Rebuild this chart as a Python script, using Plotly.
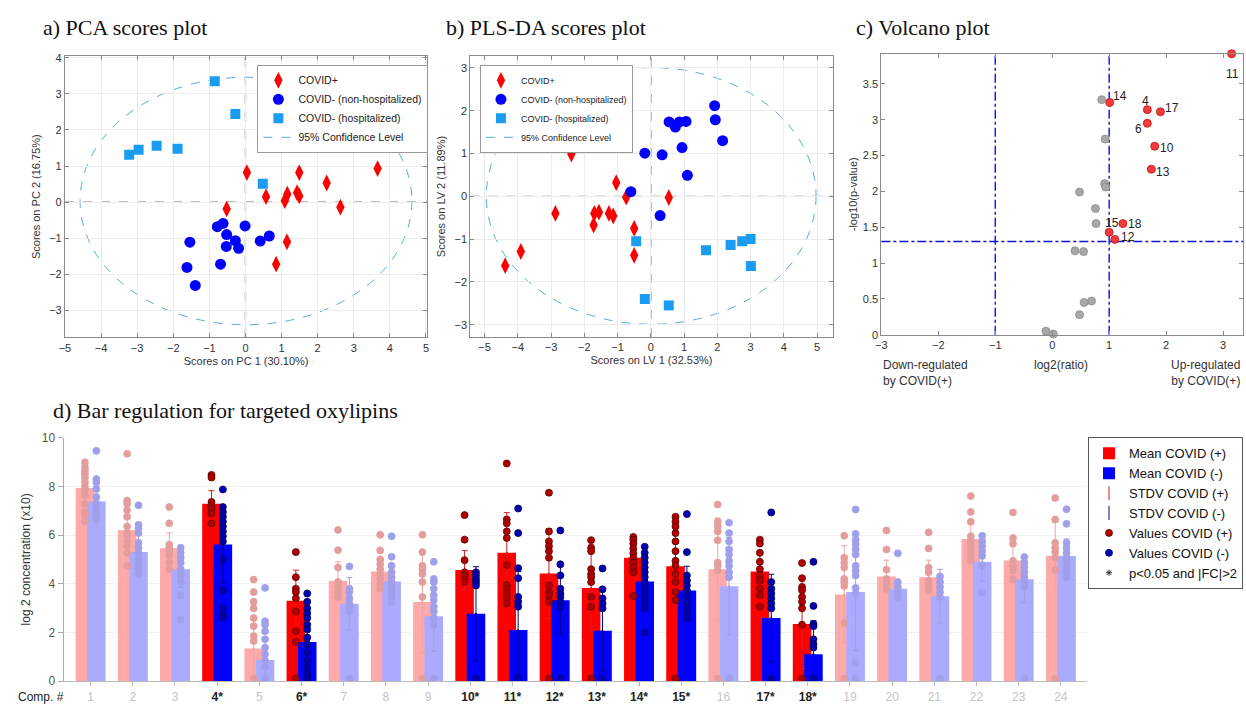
import numpy as np
import plotly.graph_objects as go

W, H = 1246, 711

# ---------------- a) PCA scores ----------------
pca_pos_x = [4.47, 3.66, 2.25, 2.63, 1.49, 1.43, 1.49, 1.16, 1.09, 0.57, 0.04, -0.52, 1.15, 0.85]
pca_pos_y = [1.80, 0.93, 0.53, -0.14, 0.82, 0.26, 0.17, 0.22, 0.04, 0.15, 0.82, -0.19, -1.10, -1.72]
pca_nonhosp_x = [-0.01, -0.62, -0.78, -0.52, -0.28, -0.53, -0.19, -0.69, -1.54, -1.62, -1.39, 0.41, 0.66]
pca_nonhosp_y = [-0.66, -0.59, -0.68, -0.90, -1.07, -1.23, -1.28, -1.72, -1.11, -1.81, -2.31, -1.08, -0.94]
pca_hosp_x = [-0.85, -0.28, -1.88, -2.46, -2.96, -3.22, 0.48]
pca_hosp_y = [3.35, 2.44, 1.48, 1.56, 1.45, 1.31, 0.51]
pca_ellipse = dict(x0=-4.58, x1=4.61, y0=-3.40, y1=3.46)

# ---------------- b) PLS-DA scores ----------------
pls_pos_x = [-2.39, -1.04, -0.74, 0.54, -2.87, -1.70, -1.56, -1.26, -1.13, -1.72, -0.50, -0.50, -3.91, -4.38]
pls_pos_y = [0.99, 0.32, -0.02, -0.03, -0.40, -0.40, -0.37, -0.40, -0.46, -0.67, -0.75, -1.38, -1.29, -1.62]
pls_nonhosp_x = [1.92, 1.94, 2.16, 0.55, 0.74, 0.86, 1.06, -0.18, 0.34, 0.94, 1.10, -0.60, 0.28]
pls_nonhosp_y = [2.12, 1.79, 1.30, 1.74, 1.62, 1.74, 1.75, 1.01, 0.97, 1.14, 0.49, 0.11, -0.45]
pls_hosp_x = [-0.44, 1.66, 2.40, 2.75, 3.00, 3.01, -0.18, 0.54]
pls_hosp_y = [-1.05, -1.26, -1.14, -1.05, -1.00, -1.63, -2.40, -2.55]
pls_ellipse = dict(x0=-4.95, x1=4.97, y0=-2.99, y1=3.01)

# ---------------- c) Volcano ----------------
volc_sig_x = [3.15, 1.01, 1.67, 1.90, 1.67, 1.80, 1.74, 1.24, 1.00, 1.10]
volc_sig_y = [3.92, 3.24, 3.14, 3.11, 2.95, 2.63, 2.31, 1.55, 1.43, 1.33]
volc_sig_labels = ["11", "14", "4", "17", "6", "10", "13", "18", "15", "12"]
volc_label_shift = [(1, -20), (10, 7), (-2, 9), (12, 4), (-9, -6), (12, -2), (12, -3), (12, 0), (3, 9), (13, 2)]
volc_ns_x = [0.87, 0.93, 0.92, 0.94, 0.48, 0.76, 0.77, 0.40, 0.55, 0.69, 0.56, 0.48, -0.11, 0.02]
volc_ns_y = [3.28, 2.73, 2.11, 2.06, 1.99, 1.76, 1.55, 1.17, 1.16, 0.47, 0.45, 0.28, 0.05, 0.01]
volc_fc_lines = [-1, 1]
volc_p_line = 1.3

# ---------------- d) Bars ----------------
comp_labels = ["1", "2", "3", "4*", "5", "6*", "7", "8", "9", "10*", "11*", "12*",
               "13*", "14*", "15*", "16", "17*", "18*", "19", "20", "21", "22", "23", "24"]
mean_pos = [7.93, 6.21, 5.46, 7.29, 1.34, 3.30, 4.12, 4.50, 3.25, 4.56, 5.27, 4.42,
            3.83, 5.07, 4.72, 4.60, 4.50, 2.35, 3.56, 4.30, 4.27, 5.84, 4.95, 5.15]
mean_neg = [7.38, 5.30, 4.60, 5.61, 0.87, 1.61, 3.18, 4.09, 2.67, 2.77, 2.10, 3.32,
            2.07, 4.09, 3.72, 3.90, 2.59, 1.11, 3.66, 3.80, 3.49, 4.90, 4.19, 5.14]
sd_pos = [0.60, 0.55, 0.63, 0.53, 1.20, 1.26, 0.78, 0.40, 2.10, 0.80, 1.65, 1.85,
          1.75, 0.60, 1.60, 2.10, 0.80, 1.84, 2.00, 0.67, 0.70, 0.60, 0.62, 1.37]
sd_neg = [0.60, 0.70, 0.75, 1.58, 0.90, 1.10, 1.07, 0.58, 1.45, 1.93, 2.40, 1.40,
          1.65, 0.85, 1.00, 2.00, 1.80, 1.37, 2.40, 0.25, 1.10, 0.80, 0.95, 0.70]
points_pos = [
    [8.99, 8.77, 8.64, 8.50, 8.36, 8.16, 7.96, 7.83, 7.63, 7.29, 6.95, 6.82, 6.58],
    [9.34, 7.42, 7.29, 7.02, 6.75, 6.35, 6.08, 5.95, 5.74, 5.54, 5.27, 4.74],
    [7.15, 6.48, 5.61, 5.48, 5.34, 5.14, 4.87, 4.60],
    [8.47, 8.36, 7.36, 7.22, 7.09, 6.89, 6.48],
    [4.17, 3.66, 3.26, 2.99, 2.59, 2.26, 1.85, 1.65, 0.10],
    [5.30, 4.27, 3.80, 3.66, 3.40, 2.86, 2.05, 1.62, 0.10],
    [6.21, 5.38, 4.67, 4.07, 3.87, 3.66, 3.46],
    [6.01, 5.37, 5.00, 4.80, 4.60, 4.40, 4.20, 4.00, 3.80],
    [6.01, 5.30, 4.74, 4.60, 4.40, 4.07, 3.46, 0.10],
    [6.82, 5.81, 4.97, 4.47, 4.34, 4.20, 4.07],
    [8.94, 6.64, 6.48, 6.15, 5.88, 4.77, 3.93, 3.80, 3.60, 3.40, 3.19],
    [7.74, 6.15, 5.74, 5.54, 5.34, 5.07, 3.93, 3.66, 3.53, 3.26, 0.10],
    [5.79, 5.48, 5.34, 4.60, 4.40, 4.27, 4.07, 3.46, 3.06, 0.10],
    [5.92, 5.81, 5.65, 5.44, 5.25, 5.06, 4.87, 4.67, 4.47, 3.50],
    [6.75, 6.55, 6.35, 6.08, 5.74, 5.34, 4.94, 4.74, 4.40, 4.07, 3.66, 3.33, 0.10],
    [7.25, 6.55, 6.35, 6.15, 5.79, 4.87, 4.74, 4.54, 0.10],
    [5.81, 5.65, 5.27, 4.90, 4.60, 4.34, 4.13, 3.80, 3.53, 3.06],
    [4.85, 4.23, 3.87, 3.73, 3.46, 3.26, 2.99, 2.32, 0.10],
    [5.97, 5.07, 4.87, 4.67, 4.20, 4.07, 3.91, 2.39, 0.10],
    [6.19, 5.41, 4.58, 4.20, 4.00, 3.80],
    [6.11, 5.45, 4.67, 4.47, 4.13, 3.93, 3.73],
    [7.60, 6.95, 6.55, 5.95, 5.74, 5.54, 5.34, 5.14, 4.94],
    [6.93, 5.88, 5.64, 4.94, 4.74, 4.54, 4.17],
    [7.52, 6.64, 5.68, 5.48, 5.30, 5.07, 4.58, 0.10],
]
points_neg = [
    [9.46, 8.30, 8.16, 7.89, 7.56, 7.29, 7.02, 6.89, 6.62],
    [7.22, 6.42, 6.28, 6.08, 5.68, 5.48, 5.27, 5.00, 4.80, 4.60, 4.40],
    [5.48, 5.27, 5.07, 4.87, 4.60, 4.34, 4.07, 3.53, 2.52],
    [7.87, 7.15, 6.95, 6.75, 6.55, 6.35, 6.15, 5.95, 5.74, 5.00, 3.73, 2.99, 2.72, 2.62],
    [3.83, 2.46, 2.32, 2.05, 1.72, 1.38, 1.11, 0.85, 0.58, 0.10],
    [3.60, 3.26, 2.99, 2.79, 2.59, 2.32, 2.12, 1.79, 1.52, 1.18, 0.85, 0.58, 0.31, 0.10],
    [4.71, 3.80, 3.66, 3.40, 3.19, 3.06, 2.86, 0.10],
    [5.95, 5.11, 4.74, 4.47, 4.27, 4.07, 3.87, 3.66, 3.46, 3.26],
    [4.90, 4.20, 4.07, 3.80, 3.53, 3.33, 3.06, 2.86, 2.59, 2.32, 0.10],
    [4.47, 4.34, 4.20, 4.07, 3.93, 0.10],
    [7.09, 6.08, 4.64, 4.23, 3.46, 3.26, 3.06, 0.10],
    [6.19, 4.80, 4.34, 3.80, 3.60, 3.46, 3.26, 3.06, 0.10],
    [4.63, 3.77, 3.40, 3.19, 2.99, 0.10],
    [5.52, 5.27, 5.07, 4.87, 4.67, 4.47, 4.27, 4.07, 3.87, 3.66, 3.40, 3.19, 2.99, 1.99],
    [6.86, 5.30, 4.34, 4.13, 3.93, 3.73, 3.53, 3.26, 2.99, 2.79, 2.59],
    [6.51, 6.08, 5.74, 5.41, 5.20, 4.94, 4.74, 4.47, 4.27, 0.10],
    [6.93, 4.07, 3.80, 3.60, 3.40, 3.19, 2.99, 0.10],
    [4.90, 3.09, 2.35, 2.26, 1.72, 1.52, 1.38, 0.10],
    [7.05, 6.05, 5.81, 5.61, 5.41, 5.20, 4.74, 4.54, 4.34, 3.83, 3.60, 0.75, 0.10],
    [5.25, 4.07, 3.87, 3.66, 3.46],
    [4.30, 4.07, 3.87, 3.66, 3.46, 0.10],
    [5.97, 5.74, 5.54, 5.34, 5.14, 4.74, 3.64],
    [5.10, 4.87, 4.67, 4.47, 4.27, 4.07, 3.87, 0.10],
    [7.06, 6.46, 5.68, 5.48, 5.27, 5.07, 4.87, 4.67, 4.47, 4.27],
]

# ---------------- styles ----------------
RED = "#ff0000"
BLUE = "#0000ff"
LIGHTBLUE = "#1a9cf2"
CI = "#5aaae0"
AX = "#8a8a8a"
FONT = "Liberation Sans, Arial, sans-serif"
SERIF = "Liberation Serif, Times New Roman, serif"

fig = go.Figure()


def score_traces(xa, ya, legend, px, py, nx, ny, hx, hy, sizes):
    fig.add_trace(go.Scatter(x=px, y=py, mode="markers", name="COVID+", xaxis=xa, yaxis=ya, legend=legend,
                             marker=dict(symbol="diamond-tall", size=sizes[0], color=RED, line=dict(width=0))))
    fig.add_trace(go.Scatter(x=nx, y=ny, mode="markers", name="COVID- (non-hospitalized)", xaxis=xa, yaxis=ya,
                             legend=legend, marker=dict(symbol="circle", size=sizes[1], color=BLUE, line=dict(width=0))))
    fig.add_trace(go.Scatter(x=hx, y=hy, mode="markers", name="COVID- (hospitalized)", xaxis=xa, yaxis=ya,
                             legend=legend, marker=dict(symbol="square", size=sizes[2], color=LIGHTBLUE, line=dict(width=0))))
    fig.add_trace(go.Scatter(x=[None], y=[None], mode="lines", name="95% Confidence Level", xaxis=xa, yaxis=ya,
                             legend=legend, line=dict(color=CI, width=1, dash="dash")))


score_traces("x", "y", "legend", pca_pos_x, pca_pos_y, pca_nonhosp_x, pca_nonhosp_y, pca_hosp_x, pca_hosp_y, (12, 11, 10))
score_traces("x2", "y2", "legend2", pls_pos_x, pls_pos_y, pls_nonhosp_x, pls_nonhosp_y, pls_hosp_x, pls_hosp_y, (12, 11, 10))

shapes = []
for xr, yr, ell in (("x", "y", pca_ellipse), ("x2", "y2", pls_ellipse)):
    shapes.append(dict(type="circle", xref=xr, yref=yr, layer="below", line=dict(color=CI, width=1, dash="dash"), **ell))
    shapes.append(dict(type="line", xref=xr + " domain", yref=yr, x0=0, x1=1, y0=0, y1=0, layer="below",
                       line=dict(color="#808080", width=1.4, dash="dash")))
    shapes.append(dict(type="line", xref=xr, yref=yr + " domain", x0=0, x1=0, y0=0, y1=1, layer="below",
                       line=dict(color="#808080", width=1.4, dash="dash")))

for v in volc_fc_lines:
    shapes.append(dict(type="line", xref="x3", yref="y3 domain", x0=v, x1=v, y0=0, y1=1, layer="below",
                       line=dict(color="#1010e0", width=1.4, dash="dashdot")))
shapes.append(dict(type="line", xref="x3 domain", yref="y3", x0=0, x1=1, y0=volc_p_line, y1=volc_p_line, layer="below",
                   line=dict(color="#1010e0", width=1.4, dash="dashdot")))

fig.add_trace(go.Scatter(x=volc_ns_x, y=volc_ns_y, mode="markers", xaxis="x3", yaxis="y3", showlegend=False,
                         cliponaxis=False,
                         marker=dict(size=8, color="#a8a8a8", line=dict(color="#8c8c8c", width=0.8))))
fig.add_trace(go.Scatter(x=volc_sig_x, y=volc_sig_y, mode="markers", xaxis="x3", yaxis="y3", showlegend=False,
                         cliponaxis=False,
                         marker=dict(size=8, color="#f23b3b", line=dict(color="#c01010", width=0.8))))

annotations = []
for x, y, lab, (dx, dy) in zip(volc_sig_x, volc_sig_y, volc_sig_labels, volc_label_shift):
    annotations.append(dict(x=x, y=y, xref="x3", yref="y3", text=lab, showarrow=False, xshift=dx, yshift=dy,
                            font=dict(size=12, color="#222", family=FONT)))

idx = np.arange(1, len(comp_labels) + 1)
sig = np.array([c.endswith("*") for c in comp_labels])
mp, mn = np.array(mean_pos), np.array(mean_neg)
sp, sn = np.array(sd_pos), np.array(sd_neg)
BW = 0.44
OFF_P, OFF_N = -0.355, -0.085
CP, CN = OFF_P + BW / 2, OFF_N + BW / 2

groups = [
    (sig, RED, BLUE, "#d02020", "#000080", "#b00000", "#0000b0", "#600000", "#000060", True),
    (~sig, "#ffaaaa", "#aaaaff", "#f2a2a2", "#9e9ee6", "#e49d9d", "#9f9fec", "#e49d9d", "#9f9fec", False),
]
bar_traces, err_traces, pt_traces = [], [], []
for mask, cbp, cbn, cep, cen, cpp, cpn, clp, cln, leg in groups:
    bar_traces.append(go.Bar(x=idx[mask], y=mp[mask], width=BW, offset=OFF_P, marker=dict(color=cbp, line=dict(width=0)),
                             name="Mean COVID (+)", showlegend=leg, legend="legend3", xaxis="x4", yaxis="y4"))
    bar_traces.append(go.Bar(x=idx[mask], y=mn[mask], width=BW, offset=OFF_N, marker=dict(color=cbn, line=dict(width=0)),
                             name="Mean COVID (-)", showlegend=leg, legend="legend3", xaxis="x4", yaxis="y4"))
    err_traces.append(go.Scatter(x=idx[mask] + CP, y=mp[mask], mode="markers", showlegend=False, xaxis="x4", yaxis="y4",
                                 marker=dict(size=2, color=cep),
                                 error_y=dict(type="data", array=sp[mask], color=cep, thickness=1, width=3)))
    err_traces.append(go.Scatter(x=idx[mask] + CN, y=mn[mask], mode="markers", showlegend=False, xaxis="x4", yaxis="y4",
                                 marker=dict(size=2, color=cen),
                                 error_y=dict(type="data", array=sn[mask], color=cen, thickness=1, width=3)))
    for pts, cshift, col, lcol, name in ((points_pos, CP, cpp, clp, "Values COVID (+)"),
                                         (points_neg, CN, cpn, cln, "Values COVID (-)")):
        xs, ys = [], []
        for i, m in zip(idx, mask):
            if m:
                xs += [i + cshift] * len(pts[i - 1])
                ys += pts[i - 1]
        pt_traces.append((name, leg, go.Scatter(x=xs, y=ys, mode="markers", name=name, showlegend=False,
                                                legend="legend3", xaxis="x4", yaxis="y4",
                                                marker=dict(size=7, color=col, line=dict(color=lcol, width=0.8)))))

fig.add_trace(bar_traces[2]); fig.add_trace(bar_traces[3])
fig.add_trace(bar_traces[0]); fig.add_trace(bar_traces[1])
fig.add_trace(go.Scatter(x=[None], y=[None], mode="markers", name="STDV COVID (+)", legend="legend3", xaxis="x4", yaxis="y4",
                         marker=dict(symbol="line-ns-open", size=10, color="#d02020", line=dict(width=1, color="#d02020"))))
fig.add_trace(go.Scatter(x=[None], y=[None], mode="markers", name="STDV COVID (-)", legend="legend3", xaxis="x4", yaxis="y4",
                         marker=dict(symbol="line-ns-open", size=10, color="#000080", line=dict(width=1, color="#000080"))))
for t in err_traces:
    fig.add_trace(t)
for name, leg, t in pt_traces:
    if not leg:
        fig.add_trace(t)
for name, leg, t in pt_traces:
    if leg:
        t.showlegend = True
        fig.add_trace(t)
fig.add_trace(go.Scatter(x=[None], y=[None], mode="markers", name="p<0.05 and |FC|>2", legend="legend3",
                         xaxis="x4", yaxis="y4",
                         marker=dict(symbol="asterisk-open", size=5, color="#333", line=dict(width=1, color="#333"))))

ticktext = ["<b>%s</b>" % c if s else '<span style="color:#c4c4c4">%s</span>' % c for c, s in zip(comp_labels, sig)]


def dom(a, b, size):
    return [a / size, b / size]


def ydom(top, bottom):
    return [1 - bottom / H, 1 - top / H]


box = dict(showline=True, linecolor=AX, linewidth=1, mirror="ticks", ticks="inside", ticklen=4, tickcolor=AX,
           gridcolor="#ececec", zeroline=False, tickfont=dict(size=11, color="#333", family=FONT),
           title_font=dict(size=11, color="#333", family=FONT))

layout = dict(
    width=W, height=H, margin=dict(l=0, r=0, t=0, b=0), paper_bgcolor="white", plot_bgcolor="white",
    font=dict(family=FONT, color="#333"), barmode="overlay", shapes=shapes,
    xaxis=dict(box, domain=dom(59.3, 424, W), range=[-5, 5.036], dtick=1, anchor="y", showgrid=True,
               title=dict(text="Scores on PC 1 (30.10%)", standoff=4)),
    yaxis=dict(box, domain=ydom(50, 337), range=[-3.75, 4.05], dtick=1, anchor="x", showgrid=True,
               title=dict(text="Scores on PC 2 (16.75%)", standoff=6)),
    xaxis2=dict(box, domain=dom(467.3, 832, W), range=[-5.43, 5.47], dtick=1, anchor="y2", showgrid=True,
                title=dict(text="Scores on LV 1 (32.53%)", standoff=4)),
    yaxis2=dict(box, domain=ydom(50, 336.7), range=[-3.29, 3.28], dtick=1, anchor="x2", showgrid=True,
                title=dict(text="Scores on LV 2 (11.89%)", standoff=6)),
    xaxis3=dict(box, domain=dom(881, 1245, W), range=[-3, 3.35], dtick=1, anchor="y3", showgrid=False),
    yaxis3=dict(box, domain=ydom(47.7, 334.3), range=[0, 3.92], dtick=0.5, anchor="x3", showgrid=False,
                title=dict(text="-log10(p-value)", standoff=2)),
    xaxis4=dict(domain=dom(58, 1088, W), range=[0.36, 24.62], anchor="y4", tickmode="array", tickvals=idx,
                ticktext=ticktext, ticks="outside", ticklen=4, tickcolor="#bbb", showline=True, linecolor="#bbb",
                showgrid=False, zeroline=False, tickfont=dict(size=12, color="#222", family=FONT)),
    yaxis4=dict(domain=ydom(439.3, 687.7), range=[0, 10], dtick=2, anchor="x4", showline=True, linecolor="#aaa",
                ticks="outside", ticklen=5, tickcolor="#aaa", gridcolor="#f2f2f2", zeroline=False,
                tickfont=dict(size=12, color="#555", family=FONT),
                title=dict(text="log 2 concentration (x10)", standoff=8, font=dict(size=12, color="#333"))),
    legend=dict(x=253 / W, y=1 - 59 / H, xanchor="left", yanchor="top", bgcolor="white", bordercolor="#999",
                borderwidth=1, font=dict(size=10.5, color="#222", family=FONT), tracegroupgap=0, itemwidth=30),
    legend2=dict(x=477 / W, y=1 - 59 / H, xanchor="left", yanchor="top", bgcolor="white", bordercolor="#999",
                 borderwidth=1, font=dict(size=9, color="#222", family=FONT), tracegroupgap=0, itemwidth=30),
    legend3=dict(x=1245 / W, y=1 - 439 / H, xanchor="right", yanchor="top", bgcolor="white", bordercolor="#555",
                 borderwidth=1, font=dict(size=13, color="#111", family=FONT), tracegroupgap=0, itemwidth=30),
)

titles = [("a) PCA scores plot", 35, 21), ("b) PLS-DA scores plot", 441, 21), ("c) Volcano plot", 853, 21),
          ("d) Bar regulation for targeted oxylipins", 45, 412)]
for txt, x, y in titles:
    annotations.append(dict(text=txt, x=x / W, y=1 - y / H, xref="paper", yref="paper", xanchor="left",
                            yanchor="middle", showarrow=False, font=dict(family=SERIF, size=22, color="#111")))

vol_txt = [("Down-regulated<br>by COVID(+)", 881, "left"), ("log2(ratio)", 1062, "center"),
           ("Up-regulated<br>by COVID(+)", 1244, "right")]
for txt, x, anc in vol_txt:
    annotations.append(dict(text=txt, x=x / W, y=1 - 356 / H, xref="paper", yref="paper", xanchor=anc,
                            yanchor="top", align=anc, showarrow=False, font=dict(size=12, color="#333", family=FONT)))
annotations.append(dict(text="Comp. #", x=10 / W, y=1 - 704 / H, xref="paper", yref="paper", xanchor="left",
                        yanchor="middle", showarrow=False, font=dict(size=12, color="#222", family=FONT)))

layout["annotations"] = annotations
fig.update_layout(**layout)

# remove the default 8px page margin synchronously so the 1246x711 figure fills the window exactly
fix_margin = ("}); document.documentElement.style.margin='0'; document.body.style.margin='0'; "
              "document.body.style.padding='0'; document.body.style.overflow='hidden'; (function(){")
fig.write_html("out.html", config={"displayModeBar": False}, post_script=fix_margin)
